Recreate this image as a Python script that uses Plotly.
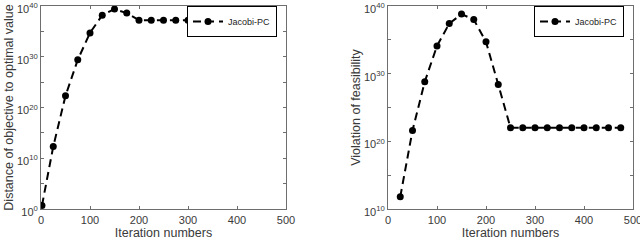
import plotly.graph_objects as go

# Left panel: distance of objective to optimal value
x_left = [2, 25, 50, 75, 100, 125, 150, 175, 200, 225, 250, 275, 300]
logy_left = [0.7, 12.3, 22.3, 29.4, 34.7, 38.2, 39.4, 38.6, 37.2, 37.2, 37.2, 37.2, 37.2]

# Right panel: violation of feasibility
x_right = [25, 50, 75, 100, 125, 150, 175, 200, 225, 250, 275, 300, 325, 350, 375, 400, 425, 450, 475]
logy_right = [11.8, 21.6, 28.8, 34.1, 37.4, 38.8, 38.0, 34.7, 28.4, 22.0, 22.0, 22.0, 22.0, 22.0,
              22.0, 22.0, 22.0, 22.0, 22.0]

series_name = "Jacobi-PC"
x_ticks = [0, 100, 200, 300, 400, 500]
y_exps_left = [0, 5, 10, 15, 20, 25, 30, 35, 40]
y_exps_right = [10, 15, 20, 25, 30, 35, 40]

y_left = [10.0 ** v for v in logy_left]
y_right = [10.0 ** v for v in logy_right]

FONT = "Liberation Sans, Arial, sans-serif"
line_style = dict(color="black", width=2, dash="8px,5px")
marker_style = dict(color="black", size=7, symbol="circle")

fig = go.Figure()
fig.add_trace(go.Scatter(x=x_left, y=y_left, mode="lines+markers", name=series_name,
                         line=line_style, marker=marker_style, xaxis="x", yaxis="y",
                         legend="legend"))
fig.add_trace(go.Scatter(x=x_right, y=y_right, mode="lines+markers", name=series_name,
                         line=line_style, marker=marker_style, xaxis="x2", yaxis="y2",
                         legend="legend2"))


def ytick_text(exps):
    return [("10<sup>%d</sup>" % e) if e % 10 == 0 else "" for e in exps]


axis_common = dict(showline=True, linecolor="#6e6e6e", linewidth=1, mirror="ticks",
                   ticks="inside", ticklen=3, tickcolor="#6e6e6e", showgrid=False,
                   zeroline=False, automargin=False, ticklabeloverflow="allow",
                   tickfont=dict(size=11, color="#3a3a3a", family=FONT))

title_font = dict(size=12.5, color="#3a3a3a", family=FONT)

fig.update_layout(
    width=640, height=241,
    margin=dict(l=0, r=0, t=6, b=32),
    paper_bgcolor="white", plot_bgcolor="white",
    font=dict(family=FONT, color="#3a3a3a"),
    xaxis=dict(domain=[41 / 640, 286 / 640], range=[0, 500], tickvals=x_ticks,
               ticklabelstandoff=1,
               title=dict(text="Iteration numbers", font=title_font, standoff=3),
               anchor="y", **axis_common),
    yaxis=dict(type="log", range=[0, 40.0001], tickvals=[10.0 ** e for e in y_exps_left],
               ticktext=ytick_text(y_exps_left), ticklabelshift=3,
               title=dict(text="Distance of objective to optimal value", font=title_font,
                          standoff=0),
               anchor="x", **axis_common),
    xaxis2=dict(domain=[388 / 640, 633 / 640], range=[0, 500], tickvals=x_ticks,
                ticklabelstandoff=1,
                title=dict(text="Iteration numbers", font=title_font, standoff=3),
                anchor="y2", **axis_common),
    yaxis2=dict(type="log", range=[10, 40.0001], tickvals=[10.0 ** e for e in y_exps_right],
                ticktext=ytick_text(y_exps_right), ticklabelshift=3,
                title=dict(text="Violation of feasibility", font=title_font, standoff=0),
                anchor="x2", **axis_common),
    legend=dict(x=277 / 640, y=1.0, xanchor="right", yanchor="top",
                xref="paper", yref="paper",
                bordercolor="black", borderwidth=1, bgcolor="white",
                font=dict(size=9, color="#222", family=FONT),
                itemwidth=30, tracegroupgap=0),
    legend2=dict(x=624 / 640, y=1.0, xanchor="right", yanchor="top",
                 xref="paper", yref="paper",
                 bordercolor="black", borderwidth=1, bgcolor="white",
                 font=dict(size=9, color="#222", family=FONT),
                 itemwidth=30, tracegroupgap=0),
    showlegend=True,
)

fig.write_html("out.html", config={"displayModeBar": False},
               post_script="document.body.style.margin='0';document.body.style.overflow='hidden';")
